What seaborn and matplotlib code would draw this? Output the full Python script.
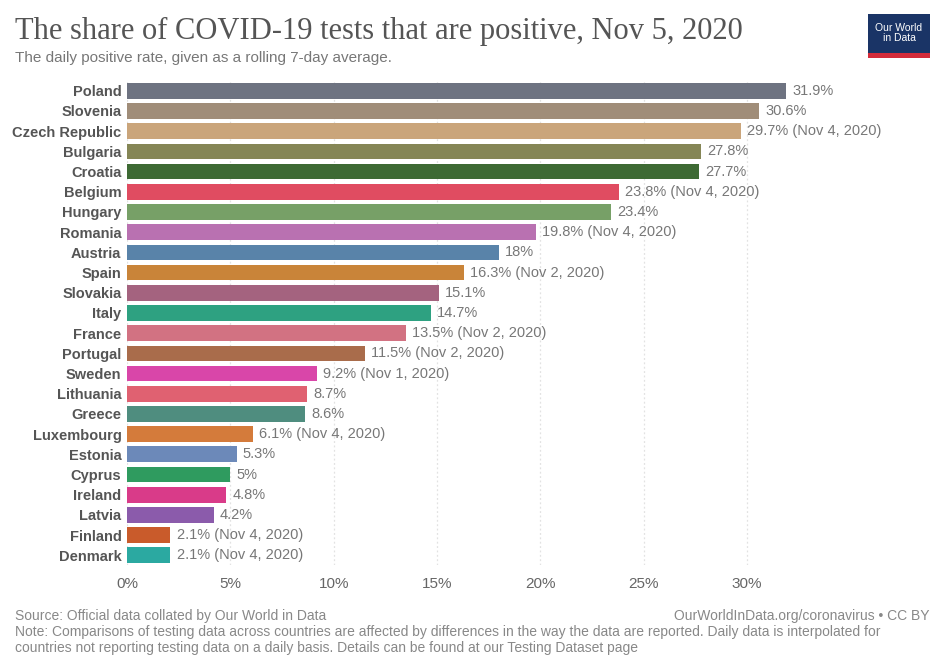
import pandas as pd
import seaborn as sns
import matplotlib.pyplot as plt
from matplotlib.patches import Rectangle
from matplotlib.ticker import FuncFormatter

# data
countries = ["Poland", "Slovenia", "Czech Republic", "Bulgaria", "Croatia", "Belgium",
             "Hungary", "Romania", "Austria", "Spain", "Slovakia", "Italy", "France",
             "Portugal", "Sweden", "Lithuania", "Greece", "Luxembourg", "Estonia",
             "Cyprus", "Ireland", "Latvia", "Finland", "Denmark"]
rates = [31.9, 30.6, 29.7, 27.8, 27.7, 23.8, 23.4, 19.8, 18, 16.3, 15.1, 14.7, 13.5,
         11.5, 9.2, 8.7, 8.6, 6.1, 5.3, 5, 4.8, 4.2, 2.1, 2.1]
notes = ["", "", "Nov 4, 2020", "", "", "Nov 4, 2020", "", "Nov 4, 2020", "",
         "Nov 2, 2020", "", "", "Nov 2, 2020", "Nov 2, 2020", "Nov 1, 2020", "", "",
         "Nov 4, 2020", "", "", "", "", "Nov 4, 2020", "Nov 4, 2020"]
colors = ["#6e7381", "#a08d79", "#caa57b", "#858656", "#3e6a34", "#e04c61",
          "#77a067", "#b971b1", "#5983a9", "#c98439", "#a4637f", "#2ea181",
          "#d27282", "#a96c4b", "#d946a9", "#e06171", "#4f8d7f", "#d47b3b",
          "#6c89b9", "#2f9b5f", "#d93b89", "#8b5bab", "#c95b2b", "#2ba9a1"]

df = pd.DataFrame({"country": countries, "rate": rates})

sns.set_style("white")
plt.rcParams['font.family'] = ['Liberation Sans', 'DejaVu Sans']

fig = plt.figure(figsize=(9.34, 6.56), dpi=100)
ax = fig.add_axes([0.136, 0.138, 0.854, 0.739])

sns.barplot(data=df, x="rate", y="country", hue="country", palette=colors,
            legend=False, width=0.78, saturation=1, ax=ax, edgecolor="none")

ax.set_xlim(0, 38.6)
ax.set_xticks([0, 5, 10, 15, 20, 25, 30])
ax.xaxis.set_major_formatter(FuncFormatter(lambda v, p: f"{v:g}%"))
ax.tick_params(axis="x", labelsize=11, colors="#666666", length=0, pad=8)
ax.tick_params(axis="y", labelsize=10.5, colors="#555555", length=0, pad=4)
for lab in ax.get_yticklabels():
    lab.set_fontweight("bold")
ax.set_xlabel("")
ax.set_ylabel("")
ax.grid(axis="x", color="#e2e2e2", linestyle=(0, (1.5, 2)), linewidth=0.9)
ax.set_axisbelow(True)
for s in ax.spines.values():
    s.set_visible(False)

# value labels
for i, (r, n) in enumerate(zip(rates, notes)):
    txt = f"{r:g}%" + (f" ({n})" if n else "")
    ax.text(r + 0.3, i, txt, va="center", ha="left", fontsize=10.5, color="#777777")

# title block
fig.text(0.016, 0.952, "The share of COVID-19 tests that are positive, Nov 5, 2020",
         fontsize=22, family="Liberation Serif", color="#555555", va="center")
fig.text(0.016, 0.912, "The daily positive rate, given as a rolling 7-day average.",
         fontsize=11, color="#777777", va="center")

# logo
fig.patches.append(Rectangle((0.929, 0.917), 0.067, 0.062, transform=fig.transFigure,
                             facecolor="#1a3466", edgecolor="none"))
fig.patches.append(Rectangle((0.929, 0.912), 0.067, 0.007, transform=fig.transFigure,
                             facecolor="#d42b3a", edgecolor="none"))
fig.text(0.9625, 0.949, "Our World\nin Data", fontsize=7.5, color="white",
         ha="center", va="center", linespacing=1.0)

# footer
fs = 10
fig.text(0.016, 0.061, "Source: Official data collated by Our World in Data",
         fontsize=fs, color="#888888", va="center")
fig.text(0.995, 0.061, "OurWorldInData.org/coronavirus • CC BY",
         fontsize=fs, color="#888888", va="center", ha="right")
fig.text(0.016, 0.036, "Note: Comparisons of testing data across countries are affected by differences "
         "in the way the data are reported. Daily data is interpolated for",
         fontsize=fs, color="#888888", va="center")
fig.text(0.016, 0.012, "countries not reporting testing data on a daily basis. Details can be found "
         "at our Testing Dataset page",
         fontsize=fs, color="#888888", va="center")

fig.savefig("out.png", dpi=100, facecolor="white")
